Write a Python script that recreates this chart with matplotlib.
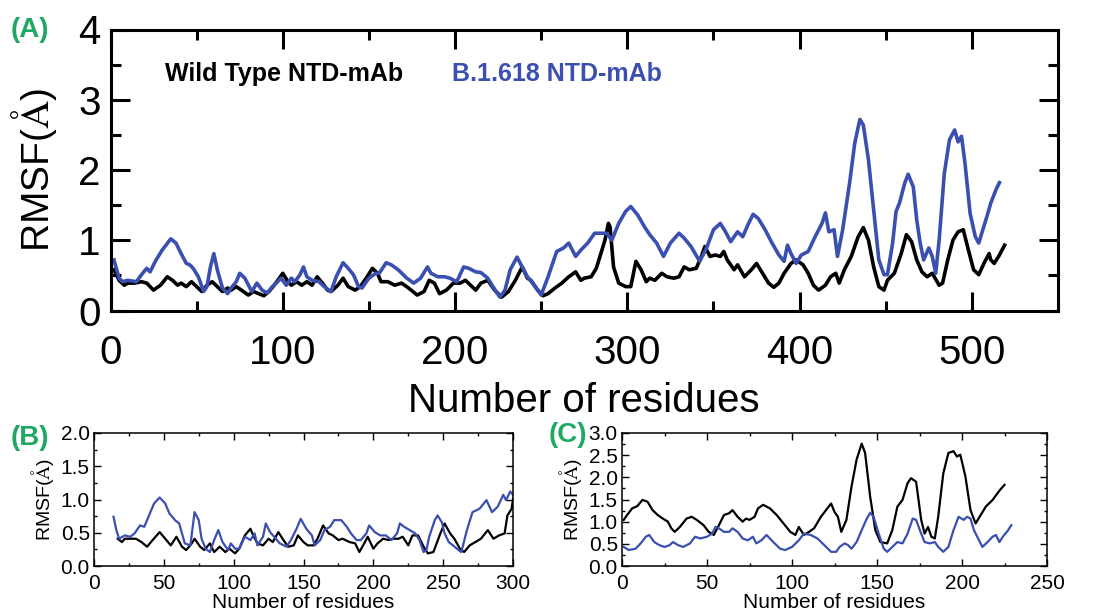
import matplotlib
matplotlib.use("Agg")
import matplotlib.pyplot as plt
from matplotlib.ticker import MultipleLocator

plt.rcParams['font.family'] = ['Liberation Sans', 'DejaVu Sans']
plt.rcParams['mathtext.fontset'] = 'stix'

BLUE = '#3a4fb0'
GREEN = '#1fa862'

# (A) 全长 NTD-mAb
a_wt_res = [2, 5, 8, 10, 14, 18, 21, 25, 29, 33, 36, 39, 41, 44, 47, 50, 53, 56, 59, 62, 65, 68, 70, 73, 76,
            80, 83, 86, 89, 92, 95, 98, 100, 103, 105, 108, 111, 114, 117, 120, 123, 126, 128, 132, 135, 138,
            142, 145, 149, 152, 155, 157, 161, 165, 169, 173, 178, 182, 185, 188, 191, 195, 199, 203, 206, 209,
            212, 215, 219, 223, 227, 231, 235, 239, 242, 244, 248, 251, 254, 258, 262, 266, 270, 273, 275, 279,
            282, 285, 287, 289, 290, 292, 295, 299, 302, 305, 308, 311, 313, 316, 320, 323, 327, 330, 333, 336,
            340, 343, 345, 348, 351, 354, 356, 358, 362, 364, 368, 372, 375, 378, 382, 385, 388, 391, 395, 398,
            402, 405, 408, 411, 415, 418, 421, 423, 426, 430, 434, 437, 440, 443, 446, 449, 451, 455, 459, 462,
            465, 468, 471, 474, 477, 481, 483, 486, 489, 492, 495, 498, 501, 504, 507, 510, 511, 513, 516, 519]
a_wt_rmsf = [0.58, 0.43, 0.36, 0.39, 0.39, 0.41, 0.39, 0.29, 0.36, 0.48, 0.43, 0.36, 0.39, 0.34, 0.41, 0.34,
             0.27, 0.36, 0.41, 0.34, 0.27, 0.32, 0.29, 0.34, 0.29, 0.22, 0.27, 0.24, 0.21, 0.27, 0.36, 0.46,
             0.53, 0.41, 0.36, 0.41, 0.36, 0.41, 0.36, 0.48, 0.39, 0.29, 0.27, 0.36, 0.46, 0.34, 0.29, 0.34,
             0.48, 0.60, 0.53, 0.41, 0.41, 0.36, 0.39, 0.32, 0.22, 0.27, 0.43, 0.39, 0.24, 0.29, 0.39, 0.39,
             0.43, 0.36, 0.29, 0.39, 0.43, 0.29, 0.19, 0.27, 0.43, 0.62, 0.46, 0.43, 0.29, 0.21, 0.24, 0.32,
             0.39, 0.48, 0.55, 0.43, 0.46, 0.48, 0.60, 0.84, 1.00, 1.24, 1.19, 0.62, 0.39, 0.34, 0.34, 0.70,
             0.58, 0.41, 0.46, 0.43, 0.53, 0.48, 0.46, 0.48, 0.62, 0.58, 0.60, 0.77, 0.91, 0.77, 0.79, 0.77,
             0.84, 0.72, 0.58, 0.65, 0.48, 0.58, 0.67, 0.55, 0.39, 0.33, 0.39, 0.53, 0.67, 0.72, 0.65, 0.53,
             0.36, 0.29, 0.36, 0.48, 0.53, 0.39, 0.58, 0.77, 1.05, 1.18, 1.00, 0.62, 0.34, 0.29, 0.43, 0.53,
             0.81, 1.08, 0.98, 0.72, 0.55, 0.48, 0.53, 0.36, 0.39, 0.72, 1.00, 1.12, 1.15, 0.86, 0.58, 0.51,
             0.67, 0.81, 0.72, 0.67, 0.79, 0.93]
a_mut_res = [2, 5, 7, 10, 15, 18, 21, 23, 26, 30, 35, 38, 41, 44, 46, 48, 51, 54, 56, 58, 60, 62, 65, 68, 70,
             73, 75, 78, 82, 85, 88, 91, 94, 97, 99, 102, 105, 107, 110, 112, 114, 117, 121, 125, 128, 131, 135,
             138, 141, 144, 146, 150, 154, 156, 160, 163, 167, 172, 176, 180, 184, 186, 190, 194, 197, 201, 205,
             208, 212, 215, 219, 222, 226, 229, 232, 236, 239, 242, 245, 250, 254, 259, 263, 266, 270, 273, 277,
             281, 285, 288, 291, 295, 299, 302, 306, 310, 313, 317, 321, 325, 330, 333, 337, 342, 346, 350, 354,
             357, 360, 362, 364, 367, 370, 373, 376, 380, 384, 388, 391, 393, 395, 398, 401, 405, 409, 413, 415,
             417, 420, 422, 425, 429, 432, 435, 437, 440, 443, 446, 449, 451, 454, 456, 458, 461, 463, 466, 468,
             470, 472, 475, 477, 479, 481, 484, 487, 490, 492, 494, 496, 499, 502, 504, 506, 509, 511, 514, 516]
a_mut_rmsf = [0.72, 0.46, 0.41, 0.43, 0.41, 0.51, 0.60, 0.55, 0.70, 0.86, 1.02, 0.96, 0.81, 0.67, 0.65, 0.60,
              0.48, 0.27, 0.34, 0.62, 0.81, 0.58, 0.32, 0.24, 0.32, 0.41, 0.53, 0.46, 0.27, 0.39, 0.29, 0.25,
              0.34, 0.41, 0.46, 0.36, 0.46, 0.41, 0.51, 0.62, 0.48, 0.43, 0.41, 0.32, 0.27, 0.48, 0.68, 0.60,
              0.51, 0.34, 0.32, 0.46, 0.53, 0.53, 0.68, 0.65, 0.58, 0.46, 0.39, 0.46, 0.62, 0.53, 0.48, 0.48,
              0.46, 0.41, 0.62, 0.60, 0.55, 0.54, 0.46, 0.34, 0.19, 0.29, 0.58, 0.76, 0.62, 0.48, 0.39, 0.22,
              0.48, 0.84, 0.89, 0.96, 0.77, 0.86, 0.96, 1.10, 1.10, 1.10, 1.00, 1.24, 1.41, 1.48, 1.36, 1.19,
              1.08, 0.96, 0.77, 0.96, 1.10, 1.03, 0.91, 0.70, 0.89, 1.15, 1.24, 1.12, 0.98, 1.05, 1.12, 1.05,
              1.22, 1.37, 1.31, 1.15, 0.96, 0.79, 0.70, 0.93, 0.81, 0.67, 0.79, 0.84, 1.05, 1.24, 1.39, 1.12,
              1.15, 0.77, 1.15, 1.81, 2.38, 2.72, 2.64, 2.14, 1.43, 0.72, 0.51, 0.51, 0.96, 1.41, 1.53, 1.81,
              1.94, 1.76, 1.29, 0.96, 0.72, 0.89, 0.77, 0.53, 1.00, 1.95, 2.43, 2.57, 2.40, 2.48, 2.10, 1.38,
              1.05, 0.96, 1.12, 1.36, 1.53, 1.72, 1.82]

# (B)
b_wt_res = [17, 20, 22, 26, 30, 34, 38, 42, 47, 51, 55, 59, 63, 66, 70, 72, 76, 79, 83, 86, 90, 94, 97, 101,
            104, 108, 112, 114, 117, 121, 125, 128, 132, 135, 139, 143, 146, 150, 153, 157, 160, 164, 168, 171,
            175, 178, 183, 187, 190, 194, 196, 200, 203, 207, 211, 214, 218, 221, 225, 228, 232, 236, 239, 243,
            248, 251, 255, 258, 262, 265, 269, 273, 277, 282, 286, 290, 294, 296, 299, 300]
b_wt_rmsf = [0.41, 0.36, 0.41, 0.41, 0.41, 0.36, 0.29, 0.39, 0.51, 0.41, 0.31, 0.44, 0.29, 0.24, 0.34, 0.41,
             0.29, 0.24, 0.34, 0.21, 0.29, 0.21, 0.26, 0.19, 0.26, 0.46, 0.56, 0.46, 0.34, 0.31, 0.41, 0.36,
             0.51, 0.41, 0.29, 0.31, 0.46, 0.36, 0.31, 0.31, 0.41, 0.61, 0.49, 0.46, 0.39, 0.41, 0.36, 0.34,
             0.21, 0.36, 0.44, 0.26, 0.34, 0.41, 0.39, 0.41, 0.41, 0.44, 0.31, 0.46, 0.46, 0.29, 0.19, 0.21,
             0.49, 0.64, 0.49, 0.41, 0.26, 0.21, 0.31, 0.36, 0.41, 0.54, 0.41, 0.46, 0.49, 0.76, 0.86, 1.01]
b_mut_res = [14, 16, 18, 22, 26, 29, 33, 36, 40, 43, 47, 51, 54, 58, 61, 65, 69, 72, 75, 77, 80, 83, 86, 89,
             92, 96, 98, 101, 104, 108, 112, 115, 117, 121, 123, 126, 129, 133, 138, 141, 145, 148, 152, 156,
             158, 162, 165, 169, 172, 177, 181, 184, 188, 191, 195, 197, 201, 205, 209, 213, 217, 219, 222, 226,
             230, 233, 236, 238, 240, 244, 246, 249, 251, 254, 257, 261, 263, 267, 271, 276, 281, 285, 289, 293,
             295, 298, 300]
b_mut_rmsf = [0.74, 0.54, 0.41, 0.46, 0.44, 0.49, 0.61, 0.59, 0.79, 0.94, 1.03, 0.94, 0.79, 0.69, 0.64, 0.34,
              0.31, 0.81, 0.69, 0.41, 0.26, 0.21, 0.39, 0.54, 0.36, 0.24, 0.34, 0.26, 0.26, 0.44, 0.39, 0.49,
              0.31, 0.44, 0.64, 0.51, 0.44, 0.34, 0.29, 0.39, 0.56, 0.71, 0.56, 0.46, 0.31, 0.39, 0.54, 0.59,
              0.69, 0.69, 0.59, 0.49, 0.39, 0.39, 0.49, 0.61, 0.51, 0.46, 0.46, 0.39, 0.49, 0.64, 0.59, 0.54,
              0.49, 0.39, 0.21, 0.24, 0.44, 0.69, 0.76, 0.66, 0.49, 0.36, 0.31, 0.24, 0.21, 0.54, 0.81, 0.86,
              0.99, 0.81, 0.89, 1.07, 0.99, 1.12, 1.07]

# (C)
c_blk_res = [1, 3, 6, 9, 12, 15, 18, 21, 24, 27, 29, 31, 34, 38, 41, 44, 48, 51, 54, 57, 60, 63, 65, 68, 71,
             73, 75, 78, 80, 83, 87, 91, 95, 99, 102, 104, 107, 110, 113, 117, 120, 123, 125, 127, 129, 132,
             135, 138, 141, 143, 146, 149, 152, 156, 159, 162, 165, 168, 170, 173, 176, 178, 180, 182, 184,
             186, 189, 192, 195, 197, 199, 202, 205, 208, 211, 214, 218, 222, 225]
c_blk_rmsf = [1.04, 1.15, 1.30, 1.35, 1.49, 1.45, 1.26, 1.15, 1.07, 1.00, 0.85, 0.77, 0.88, 1.07, 1.11, 1.04,
              0.92, 0.77, 0.70, 0.92, 1.15, 1.19, 1.26, 1.11, 1.00, 1.07, 1.04, 1.11, 1.30, 1.38, 1.30, 1.15,
              0.96, 0.77, 0.70, 0.88, 0.70, 0.77, 0.85, 1.11, 1.26, 1.41, 1.22, 1.11, 0.77, 1.04, 1.79, 2.40,
              2.76, 2.55, 1.56, 0.81, 0.54, 0.51, 0.81, 1.34, 1.49, 1.87, 1.98, 1.90, 1.04, 0.73, 0.88, 0.66,
              0.62, 1.11, 2.09, 2.55, 2.59, 2.47, 2.51, 2.02, 1.26, 0.96, 1.15, 1.34, 1.49, 1.70, 1.83]
c_blu_res = [1, 4, 8, 11, 14, 16, 19, 22, 25, 28, 30, 33, 36, 40, 43, 46, 50, 53, 55, 57, 60, 63, 65, 68, 71,
             74, 77, 79, 82, 85, 89, 93, 96, 100, 104, 107, 111, 115, 119, 123, 126, 128, 131, 133, 135, 138,
             141, 144, 146, 148, 151, 154, 156, 159, 162, 165, 168, 171, 173, 176, 178, 181, 184, 186, 189,
             192, 195, 198, 201, 203, 205, 207, 210, 212, 215, 218, 220, 222, 224, 227, 229]
c_blu_rmsf = [0.43, 0.36, 0.39, 0.51, 0.66, 0.70, 0.54, 0.47, 0.43, 0.47, 0.54, 0.47, 0.43, 0.51, 0.66, 0.62,
              0.66, 0.73, 0.88, 0.85, 0.77, 0.77, 0.85, 0.77, 0.62, 0.58, 0.66, 0.51, 0.58, 0.70, 0.54, 0.39,
              0.36, 0.43, 0.58, 0.73, 0.70, 0.62, 0.47, 0.32, 0.32, 0.43, 0.51, 0.47, 0.39, 0.54, 0.81, 1.07,
              1.20, 1.11, 0.73, 0.39, 0.32, 0.43, 0.54, 0.51, 0.73, 1.07, 1.04, 0.73, 0.54, 0.51, 0.54, 0.43,
              0.32, 0.43, 0.81, 1.11, 1.04, 1.11, 1.07, 0.81, 0.58, 0.43, 0.54, 0.66, 0.70, 0.54, 0.66, 0.80,
              0.92]

W, H = 1097, 614
fig = plt.figure(figsize=(W / 100, H / 100), dpi=100)


def box(x0, y0, x1, y1):
    return [x0 / W, 1 - y1 / H, (x1 - x0) / W, (y1 - y0) / H]


ylab = r'RMSF($\mathrm{\AA}$)'

# ---- A ----
axA = fig.add_axes(box(110.5, 29.5, 1058, 310.5))
axA.plot(a_wt_res, a_wt_rmsf, color='black', lw=2.6)
axA.plot(a_mut_res, a_mut_rmsf, color=BLUE, lw=2.6)
axA.set_xlim(0, 550)
axA.set_ylim(0, 4)
axA.xaxis.set_major_locator(MultipleLocator(100))
axA.xaxis.set_minor_locator(MultipleLocator(50))
axA.yaxis.set_major_locator(MultipleLocator(1))
axA.yaxis.set_minor_locator(MultipleLocator(0.5))
axA.tick_params(which='both', direction='in', top=True, right=True, width=2.2, labelsize=29)
axA.tick_params(which='major', length=14)
axA.tick_params(which='minor', length=7)
axA.tick_params(axis='x', pad=17)
axA.tick_params(axis='y', pad=7)
for s in axA.spines.values():
    s.set_linewidth(2.2)
axA.set_xlabel('Number of residues', fontsize=29, labelpad=7)
axA.set_ylabel(ylab, fontsize=28, labelpad=14)
axA.text(0.0575, 0.84, 'Wild Type NTD-mAb', transform=axA.transAxes, fontsize=18,
         fontweight='bold', color='black', va='center')
axA.text(0.36, 0.84, 'B.1.618 NTD-mAb', transform=axA.transAxes, fontsize=18,
         fontweight='bold', color=BLUE, va='center')

# ---- B ----
axB = fig.add_axes(box(94, 433, 513, 566))
axB.plot(b_wt_res, b_wt_rmsf, color='black', lw=1.6)
axB.plot(b_mut_res, b_mut_rmsf, color=BLUE, lw=1.6)
axB.set_xlim(0, 300)
axB.set_ylim(0, 2)
axB.xaxis.set_major_locator(MultipleLocator(50))
axB.xaxis.set_minor_locator(MultipleLocator(25))
axB.yaxis.set_major_locator(MultipleLocator(0.5))
axB.yaxis.set_minor_locator(MultipleLocator(0.25))

# ---- C ----
axC = fig.add_axes(box(622, 433, 1047, 566))
axC.plot(c_blk_res, c_blk_rmsf, color='black', lw=1.6)
axC.plot(c_blu_res, c_blu_rmsf, color=BLUE, lw=1.6)
axC.set_xlim(0, 250)
axC.set_ylim(0, 3)
axC.xaxis.set_major_locator(MultipleLocator(50))
axC.xaxis.set_minor_locator(MultipleLocator(25))
axC.yaxis.set_major_locator(MultipleLocator(0.5))
axC.yaxis.set_minor_locator(MultipleLocator(0.25))

for ax in (axB, axC):
    ax.tick_params(which='both', direction='in', top=True, right=True, width=1.0, labelsize=15)
    ax.tick_params(which='major', length=5)
    ax.tick_params(which='minor', length=2.5)
    ax.tick_params(axis='x', pad=6)
    ax.tick_params(axis='y', pad=3)
    ax.yaxis.set_major_formatter(plt.FormatStrFormatter('%.1f'))
    for s in ax.spines.values():
        s.set_linewidth(1.1)
    ax.set_xlabel('Number of residues', fontsize=15, labelpad=0)
    ax.set_ylabel(ylab, fontsize=14, labelpad=3)

fig.text(30 / W, 1 - 30 / H, '(A)', color=GREEN, fontsize=20, fontweight='bold', ha='center', va='center')
fig.text(30 / W, 1 - 438 / H, '(B)', color=GREEN, fontsize=20, fontweight='bold', ha='center', va='center')
fig.text(568 / W, 1 - 435 / H, '(C)', color=GREEN, fontsize=20, fontweight='bold', ha='center', va='center')

fig.savefig('out.png', dpi=100)
